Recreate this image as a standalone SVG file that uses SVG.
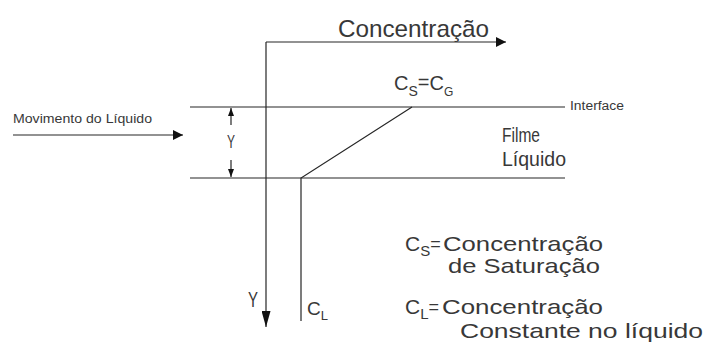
<svg xmlns="http://www.w3.org/2000/svg" width="708" height="347" viewBox="0 0 708 347">
<style>
  .ln{stroke:#262626;stroke-width:1.2;fill:none}
  .t{font-family:"Liberation Sans",Arial,sans-serif;fill:#383838}
</style>
<defs>
  <marker id="ah" markerUnits="userSpaceOnUse" markerWidth="11" markerHeight="10" refX="10" refY="5" orient="auto">
    <path d="M0,0 L10,5 L0,10 z" fill="#111"/>
  </marker>
  <marker id="ahv" markerUnits="userSpaceOnUse" markerWidth="17" markerHeight="9" refX="16" refY="4.5" orient="auto">
    <path d="M0,0 L16,4.5 L0,9 z" fill="#111"/>
  </marker>
  <marker id="ahs" markerUnits="userSpaceOnUse" markerWidth="9" markerHeight="6" refX="8" refY="3" orient="auto">
    <path d="M0,0 L8,3 L0,6 z" fill="#111"/>
  </marker>
</defs>
<rect width="708" height="347" fill="#fff"/>
<g id="connectors">
  <path class="ln" d="M266,42 L506,42" marker-end="url(#ah)"/>
  <path class="ln" d="M266,42 L266,327" marker-end="url(#ahv)"/>
  <path class="ln" d="M13,135 L183,135" marker-end="url(#ah)"/>
  <path class="ln" d="M231,125 L231,108" marker-end="url(#ahs)"/>
  <path class="ln" d="M231,160 L231,177" marker-end="url(#ahs)"/>
  <path class="ln" d="M190,107 L565,107"/>
  <path class="ln" d="M190,178 L565,178"/>
  <path class="ln" d="M301,321 L301,178 L412,107"/>
</g>
<g id="axis-concentracao">
  <text class="t" x="338" y="37" font-size="24" textLength="151" lengthAdjust="spacingAndGlyphs">Concentração</text>
</g>
<g id="axis-y">
  <text class="t" x="248" y="307" font-size="22" textLength="10" lengthAdjust="spacingAndGlyphs">Y</text>
</g>
<g id="movimento">
  <text class="t" x="13" y="123" font-size="12" textLength="139" lengthAdjust="spacingAndGlyphs">Movimento do Líquido</text>
</g>
<g id="dim-y">
  <text class="t" x="227" y="148" font-size="19" textLength="8" lengthAdjust="spacingAndGlyphs">Y</text>
</g>
<g id="cs-cg">
  <text class="t" x="394" y="90" font-size="20">C<tspan dy="6" font-size="14">S</tspan><tspan dy="-7">=</tspan><tspan dy="1">C</tspan><tspan dy="6" font-size="12">G</tspan></text>
</g>
<g id="interface">
  <text class="t" x="570" y="110" font-size="12" textLength="54" lengthAdjust="spacingAndGlyphs">Interface</text>
</g>
<g id="filme">
  <text class="t" x="502" y="142" font-size="21" textLength="38" lengthAdjust="spacingAndGlyphs">Filme</text>
  <text class="t" x="502" y="166" font-size="21" textLength="64" lengthAdjust="spacingAndGlyphs">Líquido</text>
</g>
<g id="cl-label">
  <text class="t" x="307" y="315" font-size="19">C<tspan dy="5" font-size="13">L</tspan></text>
</g>
<g id="legend-cs">
  <text class="t" x="405" y="251" font-size="21">C<tspan dy="5" font-size="15">S</tspan><tspan dy="-6" font-size="18">=</tspan></text>
  <text class="t" x="443" y="251" font-size="21" textLength="160" lengthAdjust="spacingAndGlyphs">Concentração</text>
  <text class="t" x="448" y="273" font-size="21" textLength="152" lengthAdjust="spacingAndGlyphs">de Saturação</text>
</g>
<g id="legend-cl">
  <text class="t" x="405" y="314" font-size="21">C<tspan dy="5" font-size="15">L</tspan><tspan dy="-6" font-size="18">=</tspan></text>
  <text class="t" x="442" y="314" font-size="21" textLength="161" lengthAdjust="spacingAndGlyphs">Concentração</text>
  <text class="t" x="460" y="338" font-size="21" textLength="243" lengthAdjust="spacingAndGlyphs">Constante no líquido</text>
</g>
</svg>
